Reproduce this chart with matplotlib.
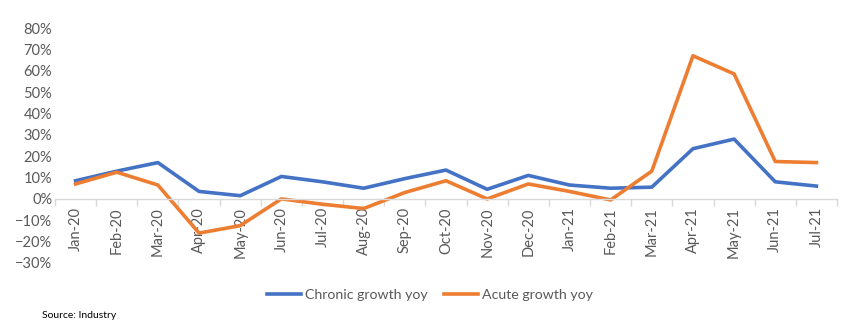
import matplotlib
matplotlib.use("Agg")
import matplotlib.pyplot as plt
from matplotlib.ticker import PercentFormatter, FixedLocator

months = ["Jan-20", "Feb-20", "Mar-20", "Apr-20", "May-20", "Jun-20", "Jul-20",
          "Aug-20", "Sep-20", "Oct-20", "Nov-20", "Dec-20", "Jan-21", "Feb-21",
          "Mar-21", "Apr-21", "May-21", "Jun-21", "Jul-21"]
chronic = [8.5, 13, 17, 3.5, 1.5, 10.5, 8, 5, 9.5, 13.5, 4.5, 11, 6.5, 5,
           5.5, 23.5, 28, 8, 6]
acute = [7, 12.5, 6.5, -16, -12.5, 0, -2.5, -4.5, 3, 8.5, 0, 7, 3.5, -0.5,
         13, 67, 58.5, 17.5, 17]
y_ticks = [-30, -20, -10, 0, 10, 20, 30, 40, 50, 60, 70, 80]

plt.rcParams["font.family"] = ["Lato", "DejaVu Sans"]
gray = "#595959"

fig = plt.figure(figsize=(8.46, 3.28), dpi=100)
ax = fig.add_axes([55 / 846, 1 - 263 / 328, 782 / 846, 235 / 328])

x = list(range(len(months)))
ax.plot(x, chronic, color="#4472C4", lw=2.6, label="Chronic growth yoy",
        solid_joinstyle="round")
ax.plot(x, acute, color="#ED7D31", lw=2.6, label="Acute growth yoy",
        solid_joinstyle="round")

ax.set_xlim(-0.5, len(months) - 0.5)
ax.set_ylim(-30, 80)
ax.set_yticks(y_ticks)
ax.yaxis.set_major_formatter(PercentFormatter(decimals=0))
ax.tick_params(axis="y", length=0, labelsize=10.5, labelcolor=gray, pad=2)

for side in ["left", "right", "top"]:
    ax.spines[side].set_visible(False)
ax.spines["bottom"].set_position(("data", 0))
ax.spines["bottom"].set_color("#d9d9d9")
ax.spines["bottom"].set_linewidth(1)

ax.set_xticks(x)
ax.set_xticklabels(months, rotation=90)
ax.xaxis.set_minor_locator(FixedLocator([i - 0.5 for i in range(len(months) + 1)]))
ax.tick_params(axis="x", which="major", length=0, labelsize=10.5, labelcolor=gray, pad=6)
ax.tick_params(axis="x", which="minor", length=5, color="#d9d9d9", width=1)

fig.legend(loc="center", bbox_to_anchor=(430 / 846, 1 - 295 / 328), ncol=2,
           frameon=False, fontsize=10.2, handlelength=2.4, columnspacing=1.1,
           handletextpad=0.3, labelcolor=gray)
fig.text(42 / 846, 1 - 315 / 328, "Source: Industry", fontsize=7.5, va="center",
         color="black")

fig.savefig("out.png", dpi=100)
